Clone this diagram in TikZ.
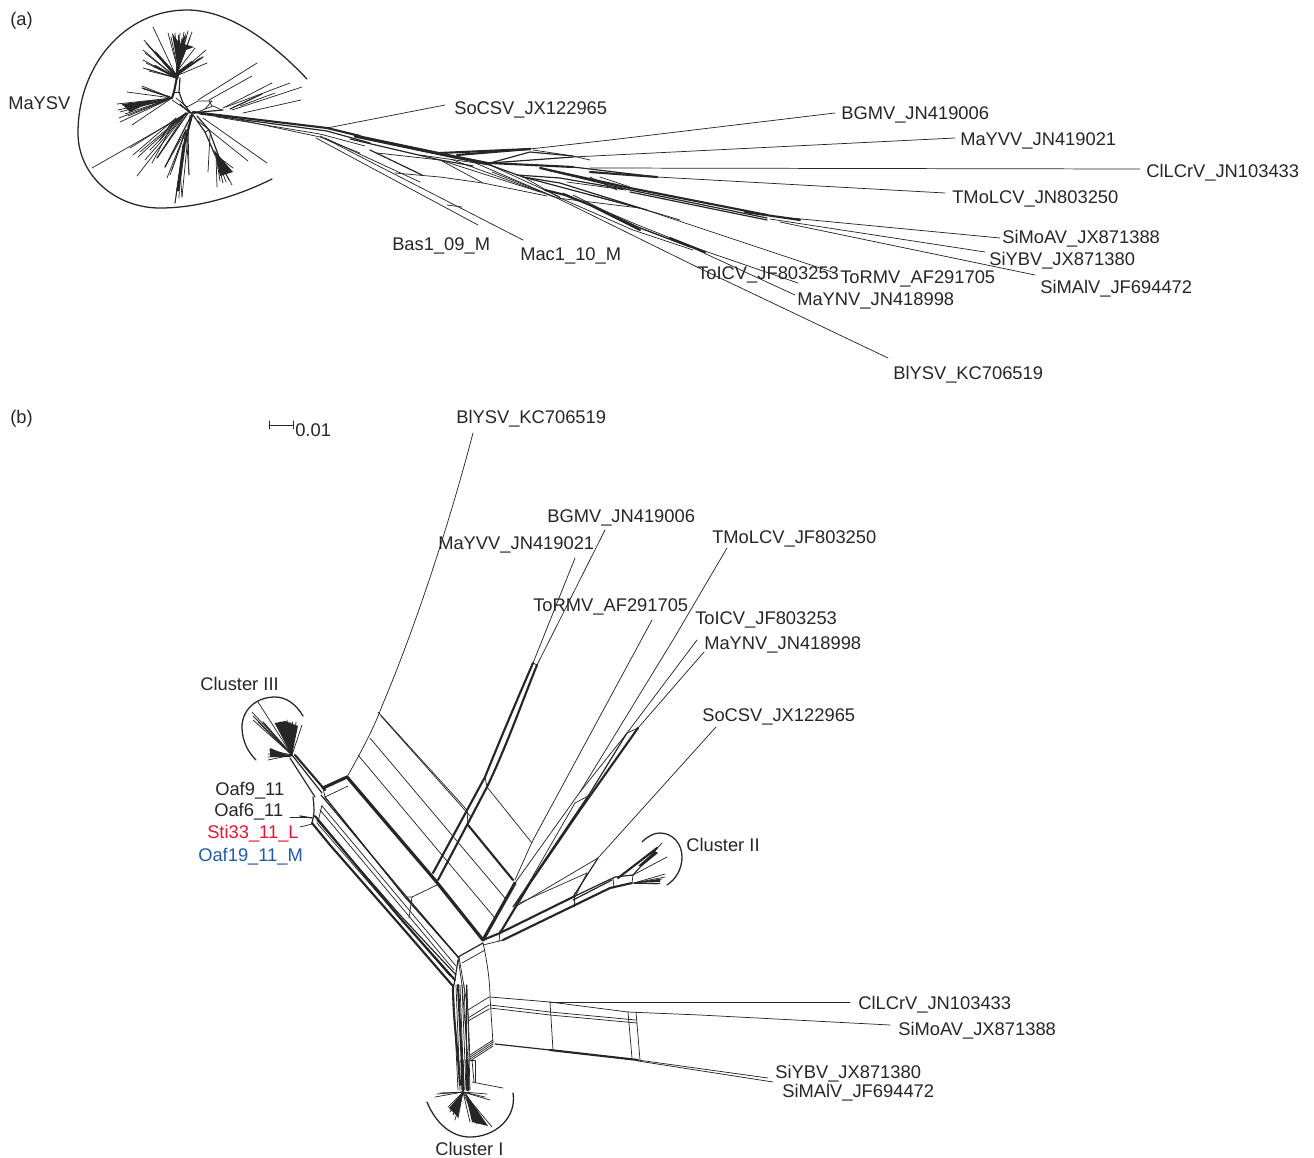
\documentclass[tikz,border=0pt]{standalone}
\usepackage{fontspec}
\setmainfont{Liberation Sans}
\definecolor{ink}{HTML}{262626}
\definecolor{redlab}{HTML}{E3172D}
\definecolor{bluelab}{HTML}{1F5CA8}
\tikzset{
 lab/.style={anchor=west,inner sep=0pt,yshift=-1.5pt,text=ink,font=\fontsize{13.75}{16}\selectfont},
 thn/.style={draw=ink,line width=0.55pt,line cap=round,line join=round},
 mid/.style={draw=ink,line width=0.9pt,line cap=round,line join=round},
 thk/.style={draw=ink,line width=1.6pt,line cap=round,line join=round},
 hvy/.style={draw=ink,line width=2.4pt,line cap=round,line join=round},
 arcl/.style={draw=ink,line width=0.95pt,line cap=round},
 wedge/.style={fill=ink,draw=none}
}
\newcommand\fan[2]{\foreach \p in {#2}{\draw[thn] #1 -- \p;}}
\begin{document}
\begin{tikzpicture}[x=0.75pt,y=-0.75pt]
\useasboundingbox (0,0) rectangle (1314,1157);
% ===== Panel (a) =====
\draw[arcl] (307,79) .. controls (270,40) and (228,10) .. (187,10) .. controls (125,10) and (78,65) .. (78,133) .. controls (78,175) and (115,208) .. (160,208) .. controls (200,208) and (240,195) .. (272,179);
% centre
\draw[thn] (172,100) -- (187,110) -- (193,114) -- (205,109) -- (212,101) -- (198,101) -- (187,107) -- (176,98);
\draw[thn] (205,109) -- (213,106) -- (222,110);
\draw[thn] (209,101) -- (212,106);
\draw[mid] (180,104) -- (190,113) -- (223,110);
% up arm
\draw[thk] (177,77) -- (174,92) -- (172,98);
\draw[mid] (180,78) -- (179,92) -- (183,103) -- (190,112);
\draw[thn] (175,92) -- (180,92);
\draw[hvy] (177,78) -- (178,65);
\fill[wedge] (172,33) -- (178,70) -- (186,50) -- (194,47) -- (184,44) -- (186,33) -- (180,44) -- cycle;
\fan{(178,70)}{(168,33),(171,37),(175,33),(178,35),(180,33),(182,38),(184,32),(186,36),(188,31),(190,38),(192,32),(195,48)}
\fan{(177,78)}{(153,27),(144,40),(146,43),(148,45),(150,47),(152,49),(143,50),(145,53),(143,60),(146,63),(143,68),(147,69),(149,71)}
\fan{(176,76)}{(206,50),(203,57),(200,58),(207,63),(198,60)}
\draw[thk] (177,76) -- (155,52);
\draw[thk] (177,78) -- (155,66);
\draw[mid] (176,75) -- (203,57);
\draw[thk] (176,74) -- (192,62);
% left arm
\draw[mid] (172,98) -- (138,106);
\draw[mid] (170,97) -- (142,88);
\draw[thk] (160,101) -- (130,107);
\fan{(172,98)}{(142,86),(144,89),(127,92),(117,104),(122,105),(118,110),(120,112),(119,118),(120,122),(132,125),(128,116),(125,114)}
\fill[wedge] (155,100) -- (122,104) -- (130,112) -- cycle;
% lower left
\draw[thn] (190,112) -- (92,168);
\fan{(186,113)}{(130,148),(138,157),(137,176),(157,158),(150,150),(145,160),(140,152)}
\fan{(176,118)}{(133,155),(152,163)}
\draw[mid] (188,113) -- (157,158);
\draw[mid] (192,114) -- (165,167);
\draw[mid] (186,114) -- (170,125) -- (160,140);
% lower mid
\draw[thk] (192,115) -- (183,150);
\draw[hvy] (184,145) -- (178,190);
\draw[thn] (190,115) -- (182,197);
\fan{(186,130)}{(165,167),(167,178),(175,203),(189,175),(177,190),(172,170),(170,175)}
\fan{(180,170)}{(175,203),(182,197),(176,195),(179,198)}
\draw[thn] (188,125) -- (189,175);
% lower right
\draw[mid] (193,115) -- (205,132) -- (215,155);
\draw[mid] (197,116) -- (209,130) -- (222,165);
\draw[thn] (205,132) -- (209,130);
\draw[thn] (210,135) -- (208,172);
\fill[wedge] (214,150) -- (220,176) -- (233,172) -- cycle;
\fan{(216,155)}{(217,187),(223,183),(232,185),(233,168),(229,180),(226,182),(220,181)}
\draw[thn] (203,118) -- (267,163);
\draw[thn] (198,121) -- (248,161);
% right
\draw[thn] (198,100) -- (257,63);
\draw[thn] (209,100) -- (252,76);
\draw[thn] (223,108) -- (272,83);
\draw[thn] (226,107) -- (290,83);
\draw[mid] (230,109) -- (262,94);
\draw[thn] (232,110) -- (302,87);
\draw[thn] (243,113) -- (301,100);
\draw[thn] (240,106) -- (275,93);
% stem
\draw[thk] (193,112) -- (327,128) -- (360,136);
\draw[mid] (200,114) -- (327,131) -- (370,143);
\draw[thn] (217,115) -- (320,137) -- (360,153);
\draw[thn] (217,117) -- (320,134) -- (365,146);
\draw[hvy] (355,136) -- (455,157) -- (490,164);
\draw[mid] (350,139) -- (440,160) -- (473,166);
\draw[thn] (327,128) -- (445,105);
% Bas/Mac
\draw[thn] (316,138) -- (478,225);
\draw[thn] (320,136) -- (523,240);
\draw[thn] (325,138) -- (420,182);
\draw[thn] (447,205) -- (462,207);
\draw[thn] (395,173) -- (440,177) -- (483,183) -- (547,196);
\draw[thn] (377,153) -- (440,160) -- (483,183);
\draw[mid] (370,150) -- (422,175);
\draw[thn] (420,155) -- (490,165) -- (560,197);
\draw[thn] (440,160) -- (540,192);
% upper fan-out
\draw[thk] (440,153) -- (530,149);
\draw[thk] (457,155) -- (530,149);
\draw[thn] (530,149) -- (610,140) -- (835,113);
\draw[mid] (490,163) -- (530,152) -- (573,156);
\draw[thn] (533,150) -- (573,156) -- (590,160);
\draw[mid] (490,163) -- (573,157);
\draw[thn] (573,157) -- (955,138);
\draw[thk] (490,163) -- (573,167);
\draw[mid] (573,167) -- (657,177);
\draw[thk] (590,172) -- (657,177);
\draw[thn] (657,177) -- (945,193);
\draw[thn] (590,168) -- (1140,169);
% right bundle
\draw[thk] (540,168) -- (630,188) -- (767,215);
\draw[mid] (547,170) -- (630,190) -- (767,218);
\draw[thn] (600,177) -- (630,187);
\draw[mid] (517,175) -- (560,178) -- (623,189);
\draw[thn] (567,182) -- (626,190);
\draw[thn] (590,177) -- (617,190);
\draw[mid] (630,192) -- (767,220);
\draw[thk] (745,212) -- (800,220);
\draw[thn] (770,216) -- (1000,238);
\draw[thn] (770,219) -- (985,252);
\draw[thn] (780,222) -- (1035,275);
% lower bundle
\draw[thn] (473,162) -- (557,198) -- (640,208) -- (835,273);
\draw[mid] (490,165) -- (523,177) -- (647,210);
\draw[mid] (523,177) -- (560,183) -- (640,208);
\draw[thn] (492,172) -- (555,197);
\draw[thk] (545,190) -- (565,195) -- (590,205) -- (640,230);
\draw[thn] (563,193) -- (633,223) -- (693,247) -- (798,283);
\draw[thn] (573,195) -- (633,225) -- (693,248) -- (795,295);
\draw[thn] (520,175) -- (560,198) -- (633,230) -- (693,250);
\draw[thk] (670,238) -- (705,252);
\draw[mid] (590,205) -- (640,228) -- (690,247);
\draw[thn] (453,160) -- (557,198) -- (697,267) -- (888,358);
\draw[thn] (590,195) -- (640,208) -- (680,220);
\node[lab] (pa) at (10,19) {(a)};
\node[lab] (a1) at (8,101) {MaYSV};
\node[lab] (a2) at (454,108) {SoCSV\_JX122965};
\node[lab] (a3) at (841,113) {BGMV\_JN419006};
\node[lab] (a4) at (960,139) {MaYVV\_JN419021};
\node[lab] (a5) at (1146,171) {ClLCrV\_JN103433};
\node[lab] (a6) at (952,197) {TMoLCV\_JN803250};
\node[lab] (a7) at (1002,237) {SiMoAV\_JX871388};
\node[lab] (a8) at (989,259) {SiYBV\_JX871380};
\node[lab] (a9) at (1040,287) {SiMAlV\_JF694472};
\node[lab] (a10) at (840,277) {ToRMV\_AF291705};
\node[lab] (a11) at (697,273) {ToICV\_JF803253};
\node[lab] (a12) at (797,299) {MaYNV\_JN418998};
\node[lab] (a13) at (893,373) {BlYSV\_KC706519};
\node[lab] (a14) at (392,244) {Bas1\_09\_M};
\node[lab] (a15) at (520,254) {Mac1\_10\_M};
% ===== Panel (b) =====
\node[lab] (pb) at (10,417) {(b)};
\coordinate (s1) at (269,425); \coordinate (s2) at (293,425);
\draw[thn] (s1) -- (s2);
\draw[thn] (269,421) -- (269,429);
\draw[thn] (293,421) -- (293,429);
\node[lab,yshift=1.5pt] (sc) at (295,430) {0.01};
% cluster III
\draw[arcl] (303,716) .. controls (296,704) and (286,697) .. (275,697) .. controls (256,697) and (242,710) .. (242,727) .. controls (242,741) and (248,752) .. (256,760);
\fan{(292,755)}{(258,702),(252,712),(253,716),(253,720),(258,722),(275,723),(280,722),(287,720),(290,722),(292,722),(296,722),(302,725),(269,750),(268,754),(268,757),(268,760),(285,725),(278,726)}
\fill[wedge] (292,755) -- (275,723) -- (285,721) -- (298,726) -- cycle;
\fill[wedge] (292,757) -- (270,748) -- (270,757) -- cycle;
\draw[mid] (292,755) -- (263,722);
\draw[mid] (290,758) -- (315,797);
\draw[mid] (292,755) -- (322,793);
\draw[thk] (295,755) -- (325,790);
\draw[hvy] (323,788) -- (347,777);
\draw[thn] (325,797) -- (348,786);
\draw[thn] (323,788) -- (325,797);
\draw[thn] (347,777) -- (352,783);
% main thick
\draw[hvy] (347,777) -- (435,880);
\draw[hvy] (435,880) -- (483,940);
% left bundle
\draw[mid] (313,797) .. controls (314,806) and (315,812) .. (312,823);
\draw[thk] (312,823) -- (330,845) -- (400,925) -- (452,985);
\draw[thk] (315,816) -- (400,918) -- (455,980);
\draw[mid] (317,820) -- (400,915) -- (456,975);
\draw[mid] (321,795) -- (405,895) -- (459,958);
\draw[mid] (325,797) -- (405,897) -- (458,957);
\draw[thn] (320,810) -- (454,970);
\draw[thn] (322,806) -- (456,966);
\draw[thn] (317,823) -- (450,976);
\draw[thn] (322,805) -- (318,822);
\draw[thn] (406,897) -- (412,897) -- (409,918);
\draw[thn] (290,817) -- (312,817);
\draw[mid] (300,816) -- (312,818);
\draw[thn] (300,827) -- (312,824);
\draw[thn] (412,897) -- (437,885);
% stem to Cluster I
\foreach \a/\b in {456/460,458/463,460/464,462/466,464/468,466/466,453/458,467/470}{\draw[thn] (\a,985) -- (\b,1090);}
\draw[thk] (453,985) .. controls (453,1020) and (458,1050) .. (460,1085);
\draw[thk] (458,985) -- (463,1085);
\draw[hvy] (467,1060) -- (468,1090);
\draw[hvy] (462,1060) -- (463,1090);
\draw[thn] (458,957) -- (462,985) -- (468,1060);
\draw[thn] (459,957) -- (468,1010) -- (470,1060);
\draw[mid] (458,960) -- (454,985);
\draw[thn] (472,1060) -- (474,1082);
\draw[thn] (470,1060) -- (475,1060) -- (475,1082);
\draw[thn] (472,1082) -- (503,1088);
\draw[mid] (458,957) -- (483,943);
\draw[thn] (462,963) -- (485,950);
% cluster I
\draw[arcl] (427,1102) .. controls (436,1124) and (452,1137) .. (470,1137) .. controls (495,1137) and (517,1118) .. (513,1093);
\fan{(463,1092)}{(435,1097),(437,1094),(440,1093),(448,1107),(450,1112),(453,1115),(458,1118),(455,1120),(470,1122),(477,1124),(492,1127),(485,1097),(487,1094),(490,1100)}
\fill[wedge] (463,1092) -- (449,1108) -- (458,1117) -- cycle;
\fill[wedge] (465,1092) -- (472,1122) -- (488,1126) -- cycle;
% cluster II arm
\draw[thk] (483,940) -- (500,933) -- (573,897);
\draw[thk] (503,940) -- (573,906);
\draw[thn] (483,945) -- (503,940);
\draw[thn] (500,930) -- (499,942);
\draw[mid] (573,897) -- (615,877) -- (633,875);
\draw[mid] (573,900) -- (612,880);
\draw[thk] (573,906) -- (610,888) -- (632,883);
\draw[thn] (574,893) -- (574,907);
\draw[thn] (613,878) -- (614,888);
\draw[thn] (633,875) -- (632,883);
\draw[thn] (515,907) -- (598,858);
\draw[thn] (515,905) -- (587,873);
\draw[mid] (598,858) -- (573,897);
\draw[thn] (587,873) -- (575,897);
\draw[thn] (598,858) -- (716,727);
% cluster II fan
\draw[arcl] (642,842) .. controls (648,836) and (654,833) .. (660,833) .. controls (673,833) and (682,844) .. (682,857) .. controls (682,869) and (676,879) .. (667,885);
\draw[thk] (618,878) -- (657,848);
\fan{(633,875)}{(662,843),(657,848),(667,857)}
\fan{(634,883)}{(665,877),(660,883),(665,874),(662,879),(657,884),(660,880)}
\fill[wedge] (633,883) -- (660,879) -- (660,882) -- cycle;
\fill[wedge] (638,866) -- (655,851) -- (658,853) -- (642,866) -- cycle;
% upward stems from centre
\draw[hvy] (483,940) -- (515,883);
\draw[thk] (500,933) -- (530,883) -- (580,810) -- (638,728);
\draw[thn] (515,883) -- (580,792) -- (673,640) -- (727,548);
\draw[thn] (580,792) -- (627,733) -- (697,640);
\draw[mid] (513,907) -- (590,793) -- (627,733);
\draw[thn] (515,907) -- (575,803);
\draw[thn] (575,803) -- (590,795);
\draw[thn] (515,880) -- (532,842) -- (652,620);
\draw[thn] (627,733) -- (638,728);
\draw[thn] (638,728) -- (704,652);
% MaYVV / BGMV double
\draw[thk] (533,663) .. controls (517,700) and (502,735) .. (485,777) -- (433,873);
\draw[thk] (537,665) .. controls (522,702) and (507,745) .. (487,787) -- (438,880);
\draw[thn] (533,663) -- (537,665);
\draw[thn] (485,777) -- (487,787);
\draw[thn] (533,663) -- (575,558);
\draw[thn] (537,665) -- (605,530);
\draw[thn] (487,787) -- (532,843);
% BlYSV
\draw[thn] (347,777) .. controls (365,745) and (375,725) .. (382,706) .. controls (410,640) and (445,540) .. (473,433);
\draw[thn] (378,712) -- (467,810);
\draw[thn] (381,716) -- (471,817);
\draw[thk] (468,825) -- (513,880);
\draw[thn] (467,810) -- (468,825);
\draw[thn] (370,738) -- (505,898);
\draw[thn] (358,755) -- (494,917);
% lower-right
\draw[thn] (483,943) .. controls (488,965) and (490,985) .. (490,997) -- (493,1043);
\draw[thn] (468,1010) -- (489,997);
\draw[thn] (468,1018) -- (489,1005);
\draw[thn] (468,1021) -- (489,1009);
\draw[thn] (490,997) -- (550,1002) -- (628,1012) -- (700,1015) -- (890,1025);
\draw[thn] (550,1002) -- (850,1002);
\draw[thn] (490,1005) -- (550,1012) -- (636,1020);
\draw[thn] (490,1008) -- (550,1015) -- (637,1023);
\draw[thn] (550,1002) -- (553,1050);
\draw[thn] (628,1012) -- (632,1058);
\draw[thn] (636,1012) -- (640,1060);
\foreach \d in {0,2,4,6}{\draw[thn] (470,1055+\d) -- (493,1040+\d);}
\draw[mid] (495,1044) -- (550,1050);
\draw[thk] (550,1050) -- (638,1060);
\draw[thn] (638,1060) -- (768,1078);
\draw[thn] (638,1061) -- (773,1082);
\node[lab] (b1) at (456,417) {BlYSV\_KC706519};
\node[lab] (b2) at (547,516) {BGMV\_JN419006};
\node[lab] (b3) at (438,543) {MaYVV\_JN419021};
\node[lab] (b4) at (712,537) {TMoLCV\_JF803250};
\node[lab] (b5) at (533,605) {ToRMV\_AF291705};
\node[lab] (b6) at (695,618) {ToICV\_JF803253};
\node[lab] (b7) at (704,643) {MaYNV\_JN418998};
\node[lab] (b8) at (702,715) {SoCSV\_JX122965};
\node[lab,yshift=1.5pt] (b9) at (200,684) {Cluster III};
\node[lab] (b10) at (215,789) {Oaf9\_11};
\node[lab] (b11) at (214,810) {Oaf6\_11};
\node[lab] (b12) at (207,832) {\textcolor{redlab}{Sti33\_11\_L}};
\node[lab] (b13) at (198,855) {\textcolor{bluelab}{Oaf19\_11\_M}};
\node[lab,yshift=1.5pt] (b14) at (686,845) {Cluster II};
\node[lab] (b15) at (858,1003) {ClLCrV\_JN103433};
\node[lab] (b16) at (898,1029) {SiMoAV\_JX871388};
\node[lab] (b17) at (775,1072) {SiYBV\_JX871380};
\node[lab] (b18) at (782,1091) {SiMAlV\_JF694472};
\node[lab,yshift=1.5pt] (b19) at (435,1149) {Cluster I};
\end{tikzpicture}
\end{document}
